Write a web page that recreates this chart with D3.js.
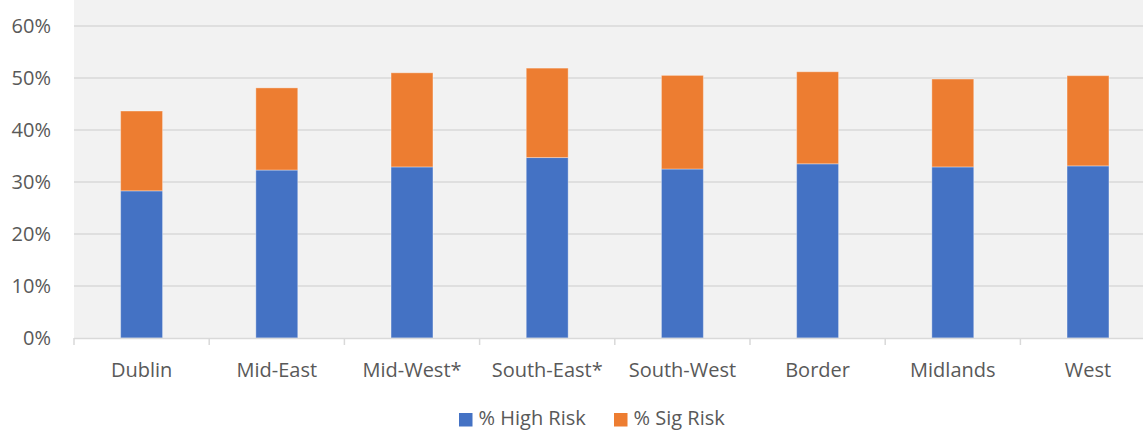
<!DOCTYPE html>
<html>
<head>
<meta charset="utf-8">
<script src="https://cdn.jsdelivr.net/npm/d3@7"></script>
<style>
  html, body { margin: 0; padding: 0; background: #ffffff; }
  svg { display: block; font-family: "Open Sans", "Noto Sans", sans-serif; }
</style>
</head>
<body>
<svg id="chart" width="1143" height="432"></svg>
<script>
// Regional risk shares (percent)
const regions = ["Dublin", "Mid-East", "Mid-West*", "South-East*", "South-West", "Border", "Midlands", "West"];
const highRisk = [28.3, 32.3, 32.9, 34.7, 32.5, 33.5, 32.9, 33.1];
const sigRisk  = [15.35, 15.8, 18.1, 17.2, 18.0, 17.7, 16.9, 17.35];
const seriesNames = ["% High Risk", "% Sig Risk"];
const seriesColors = ["#4472c4", "#ed7d31"];
const yTicks = [0, 10, 20, 30, 40, 50, 60];

const svg = d3.select("#chart");
const W = 1143, H = 432;
const FS = 20;
const plot = { left: 74, top: 0, bottom: 338, right: 74 + 8 * 135.2 };

const x = d3.scaleBand().domain(regions).range([plot.left, plot.right]).paddingInner(0.69).paddingOuter(0.345);
const xOuter = d3.scaleBand().domain(regions).range([plot.left, plot.right]);
const y = d3.scaleLinear().domain([0, 60]).range([plot.bottom, 26]);

// plot area background
svg.append("rect")
  .attr("x", plot.left).attr("y", plot.top)
  .attr("width", W - plot.left).attr("height", plot.bottom - plot.top)
  .attr("fill", "#f2f2f2");

// gridlines
svg.append("g")
  .selectAll("line")
  .data(yTicks.filter(d => d > 0))
  .join("line")
  .attr("x1", plot.left).attr("x2", W)
  .attr("y1", d => y(d)).attr("y2", d => y(d))
  .attr("stroke", "#d9d9d9").attr("stroke-width", 1.5);

// y axis labels
const yAxis = d3.axisLeft(y).tickValues(yTicks).tickFormat(d => d + "%").tickSize(0).tickPadding(0);
const gy = svg.append("g").attr("transform", "translate(51,0)").call(yAxis);
gy.select(".domain").remove();
gy.selectAll("text").attr("fill", "#595959").attr("font-size", FS).attr("font-family", "'Open Sans', 'Noto Sans', sans-serif");

// stacked data
const rows = regions.map((r, i) => ({ region: r, high: highRisk[i], sig: sigRisk[i] }));
const stack = d3.stack().keys(["high", "sig"])(rows);

svg.append("g")
  .selectAll("g")
  .data(stack)
  .join("g")
  .attr("fill", (d, i) => seriesColors[i])
  .selectAll("rect")
  .data(d => d)
  .join("rect")
  .attr("x", d => x(d.data.region))
  .attr("width", x.bandwidth())
  .attr("y", d => y(d[1]))
  .attr("height", d => y(d[0]) - y(d[1]))
  .attr("stroke", "#ffffff").attr("stroke-opacity", 0.35).attr("stroke-width", 1);

// x axis
const gx = svg.append("g").attr("transform", `translate(0,${plot.bottom})`);
gx.append("line").attr("x1", plot.left).attr("x2", W).attr("y1", 0.5).attr("y2", 0.5)
  .attr("stroke", "#d9d9d9").attr("stroke-width", 1.5);
gx.selectAll("line.tick")
  .data(regions)
  .join("line").attr("class", "tick")
  .attr("x1", d => xOuter(d)).attr("x2", d => xOuter(d))
  .attr("y1", 0).attr("y2", 7)
  .attr("stroke", "#d9d9d9").attr("stroke-width", 1.5);
gx.selectAll("text")
  .data(regions)
  .join("text")
  .attr("x", d => xOuter(d) + xOuter.bandwidth() / 2)
  .attr("y", 39)
  .attr("text-anchor", "middle")
  .attr("fill", "#595959").attr("font-size", FS)
  .text(d => d);

// legend
const legendItems = [
  { name: seriesNames[0], color: seriesColors[0], x: 459 },
  { name: seriesNames[1], color: seriesColors[1], x: 614 }
];
const lg = svg.append("g");
legendItems.forEach(it => {
  lg.append("rect").attr("x", it.x).attr("y", 413).attr("width", 13.5).attr("height", 13.5).attr("fill", it.color);
  lg.append("text").attr("x", it.x + 19.5).attr("y", 425).attr("fill", "#595959").attr("font-size", FS).text(it.name);
});
</script>
</body>
</html>
